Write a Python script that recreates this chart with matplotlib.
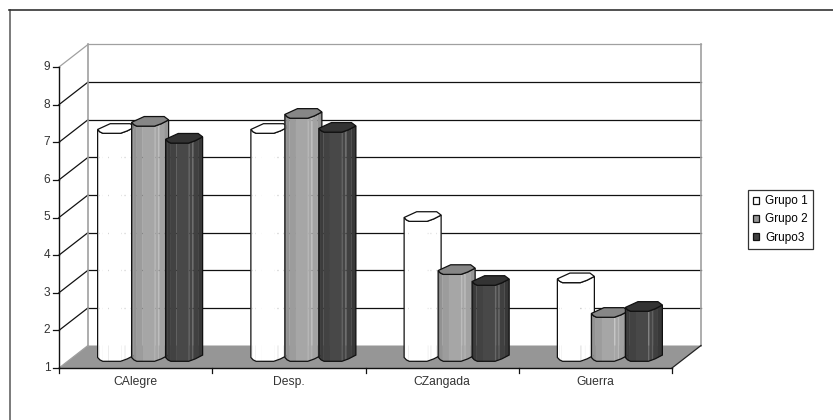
import matplotlib
matplotlib.use("Agg")
import matplotlib.pyplot as plt
import numpy as np
from matplotlib.patches import Polygon, Patch

plt.rcParams['font.family'] = ['Liberation Sans', 'DejaVu Sans']

categories = ["CAlegre", "Desp.", "CZangada", "Guerra"]
grupo1 = [7.06, 7.06, 4.72, 3.09]
grupo2 = [7.25, 7.46, 3.31, 2.17]
grupo3 = [6.80, 7.09, 3.02, 2.33]
yticks = [1, 2, 3, 4, 5, 6, 7, 8, 9]
series_names = ["Grupo 1", "Grupo 2", "Grupo3"]

# facets of the prism, left to right
strips = [0, 0.05, 0.12, 0.3, 0.62, 0.65, 0.72, 0.75, 0.88, 1]
shades = [
    ["#ffffff"] * 9,
    ["#868686", "#929292", "#9c9c9c", "#a6a6a6", "#bababa", "#a6a6a6", "#bababa", "#a2a2a2", "#969696"],
    ["#363636", "#3c3c3c", "#424242", "#484848", "#666666", "#464646", "#626262", "#404040", "#383838"],
]
top_col = ["#ffffff", "#868686", "#333333"]
legend_col = ["#ffffff", "#969696", "#404040"]

# pixels per unit
px_x = 153.25
px_y = 37.625
W, H = 833, 420
dx = 29 / px_x
dy = 22.5 / px_y

fig = plt.figure(figsize=(W / 100, H / 100), dpi=100)
ax = fig.add_axes([0, 0, 1, 1])
ax.set_xlim(-59 / px_x, (W - 59) / px_x)
ax.set_ylim(1 - (H - 368) / px_y, 1 + 368 / px_y)
ax.axis('off')
n = len(categories)

# only the top and left of the outer frame show up
fig.add_artist(plt.Line2D([9.5 / W, 9.5 / W], [0, 1 - 10 / H], color='#707070', lw=1.3))
fig.add_artist(plt.Line2D([9 / W, 1], [1 - 10 / H, 1 - 10 / H], color='#333333', lw=1.2))

# floor
ax.add_patch(Polygon([(0, 1), (n, 1), (n + dx, 1 + dy), (dx, 1 + dy)],
                     fc='#969696', ec='none', zorder=1))

# walls and grid
for v in yticks:
    col = '#a0a0a0' if v in (1, 9) else '#111111'
    ax.plot([0, dx], [v, v + dy], color=col, lw=0.9, zorder=2)
    if v > 1:
        ax.plot([dx, n + dx], [v + dy, v + dy], color=col, lw=0.9, zorder=2)
    ax.plot([-6 / px_x, 0], [v, v], color='#111111', lw=0.9, zorder=2)
    ax.text(-8.5 / px_x, v, str(v), ha='right', va='center', fontsize=8.6, color='#333333')
ax.plot([dx, dx], [1 + dy, 9 + dy], color='#a0a0a0', lw=1.2, zorder=2)
ax.plot([n + dx, n + dx], [1 + dy, 9 + dy], color='#a0a0a0', lw=1.2, zorder=2)
ax.plot([0, 0], [1, 9], color='#111111', lw=1, zorder=3)
ax.plot([0, n], [1, 1], color='#111111', lw=1, zorder=3)
ax.plot([n, n + dx], [1, 1 + dy], color='#222222', lw=0.9, zorder=3)
for i in range(n + 1):
    ax.plot([i, i], [1, 1 - 5 / px_y], color='#111111', lw=0.9, zorder=3)
for i, c in enumerate(categories):
    ax.text(i + 0.5, 1 - 14 / px_y, c, ha='center', va='center', fontsize=8.7, color='#333333')

# bars, skewed six sided prisms
bw = 37 / px_x
step = 34 / px_x
hy = 4.8 / px_y
lift = 11.5 / px_y
front_x, front_y = [0, 0.06, 0.14, 0.62, 0.8, 1], [-0.2, -0.7, -1, -1, -0.5, 0.3]
back_x, back_y = [1, 0.88, 0.34, 0], [0.3, 1, 1, -0.2]
for j, vals in enumerate([grupo1, grupo2, grupo3]):
    for i, v in enumerate(vals):
        x0 = i + 0.5 + (j - 1) * step + dx / 2 - bw / 2
        low = 1 + lift
        high = v + lift
        z = 10 + j
        for k in range(len(strips) - 1):
            a, b = strips[k], strips[k + 1]
            ya, yb = np.interp([a, b], front_x, front_y) * hy
            ax.add_patch(Polygon([
                (x0 + a * bw, low + ya), (x0 + b * bw, low + yb),
                (x0 + b * bw, high + yb), (x0 + a * bw, high + ya)],
                fc=shades[j][k], ec=shades[j][k], lw=0.2, zorder=z))
        side = [(x0 + a * bw, low + b * hy) for a, b in zip(front_x, front_y)]
        side += [(x0 + a * bw, high + b * hy) for a, b in zip(front_x[::-1], front_y[::-1])]
        ax.add_patch(Polygon(side, fc='none', ec='#111111', lw=0.9, zorder=z + 0.1))
        top = [(x0 + a * bw, high + b * hy) for a, b in zip(front_x + back_x[1:-1], front_y + back_y[1:-1])]
        ax.add_patch(Polygon(top, fc=top_col[j], ec='#111111', lw=0.9, zorder=z + 0.2))

# legend
handles = [Patch(fc=c, ec='#111111', lw=0.9, label=s) for c, s in zip(legend_col, series_names)]
leg = ax.legend(handles=handles, loc='center left', bbox_to_anchor=(748 / W, 1 - 219.5 / H),
                bbox_transform=fig.transFigure, fontsize=8.5, fancybox=False, framealpha=1,
                edgecolor='#333333', handlelength=0.5, handleheight=0.5, handletextpad=0.5,
                labelspacing=0.52, borderpad=0.45, borderaxespad=0)
leg.get_frame().set_linewidth(0.9)
leg.set_zorder(20)

fig.savefig('out.png', dpi=100)
